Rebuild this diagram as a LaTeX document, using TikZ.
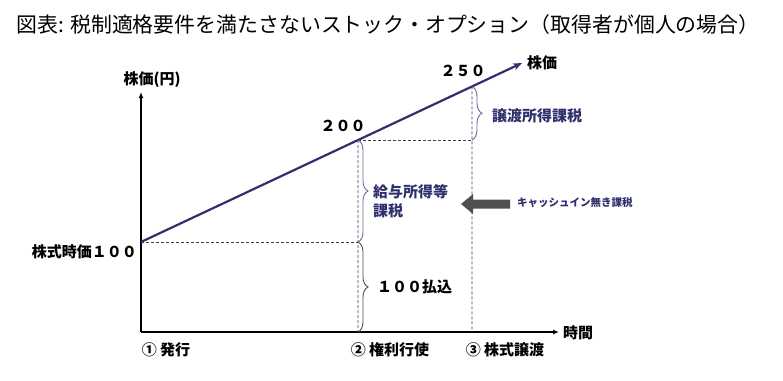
\documentclass[tikz,border=0pt]{standalone}
\usepackage{fontspec}
\setmainfont{Noto Sans CJK JP}
\usetikzlibrary{arrows.meta,decorations.pathreplacing,calc}
\definecolor{navy}{HTML}{2F2F6E}
\definecolor{bracenavy}{HTML}{6A6A96}
\definecolor{arrowgray}{HTML}{505050}
\begin{document}
\begin{tikzpicture}[x=1pt,y=-1pt,
  lbl/.style={font=\fontsize{15}{17}\selectfont\bfseries, inner sep=0pt},
  navylbl/.style={lbl, text=navy},
  axis/.style={line width=1.6pt, -{Latex[length=6pt,width=5pt]}},
  guide/.style={dash pattern=on 3pt off 2pt, line width=0.8pt, draw=black!75},
  bracestyle/.style={decorate, decoration={brace, amplitude=10pt}, line width=0.9pt}
]
\useasboundingbox (0,0) rectangle (783,380);
% title
\node[inner sep=0pt, font=\fontsize{20.9}{24}\selectfont] (title) at (388,25) {図表: 税制適格要件を満たさないストック・オプション（取得者が個人の場合）};
% axes
\coordinate (O) at (141,332);
\coordinate (Ytop) at (141,92);
\coordinate (Xend) at (559,332);
\draw[axis] (O) -- (Ytop);
\draw[axis] (O) -- (Xend);
\node[lbl] (ylab) at (152,80) {株価(円)};
\node[lbl, anchor=west] (xlab) at (563,333) {時間};
% price line
\coordinate (P1) at (141,242);
\coordinate (E) at (522,63);
\coordinate (P2) at ($(P1)!{217/381}!(E)$);
\coordinate (P3) at ($(P1)!{331/381}!(E)$);
\coordinate (X2) at (358,332);
\coordinate (X3) at (472,332);
\coordinate (M2) at (P2 -| P3);
\coordinate (M1) at (P1 -| X2);
% guides
\draw[guide] (P1) -- (M1);
\draw[guide] (P2) -- (M2);
\draw[guide] (P2) -- (X2);
\draw[guide] (P3) -- (X3);
\draw[navy, line width=2.2pt, -{Stealth[length=9pt,width=7pt]}] (P1) -- (E);
\node[lbl, anchor=west] (plab) at (527,63) {株価};
% value labels
\node[lbl] (v200) at (343,126) {２００};
\node[lbl] (v250) at (463,71) {２５０};
\node[lbl, anchor=east] (v100) at (137,252) {株式時価１００};
% time labels
\node[lbl] (t1) at (166,350) {① 発行};
\node[lbl] (t2) at (390,350) {② 権利行使};
\node[lbl] (t3) at (505,350) {③ 株式譲渡};
% braces
\draw[bracestyle, draw=bracenavy] (P3) -- (M2);
\draw[bracestyle, draw=bracenavy] (P2) -- (M1);
\draw[bracestyle, draw=black!70] (M1) -- (X2);
\node[navylbl, anchor=west] (b1) at (492,116) {譲渡所得課税};
\node[navylbl, anchor=west, align=left, font=\fontsize{15}{19.5}\selectfont\bfseries] (b2) at (373,201) {給与所得等\\課税};
\node[lbl, anchor=west] (b3) at (377,287) {１００払込};
% cash-in arrow
\coordinate (tip) at (461,204);
\fill[arrowgray] (tip) -- ++(12,-10) -- ++(0,5.5) -- ++(37,0) -- ++(0,9) -- ++(-37,0) -- ++(0,5.5) -- cycle;
\node[navylbl, anchor=west, font=\fontsize{10.5}{12}\selectfont\bfseries] (cash) at (517,203) {キャッシュイン無き課税};
\end{tikzpicture}
\end{document}
